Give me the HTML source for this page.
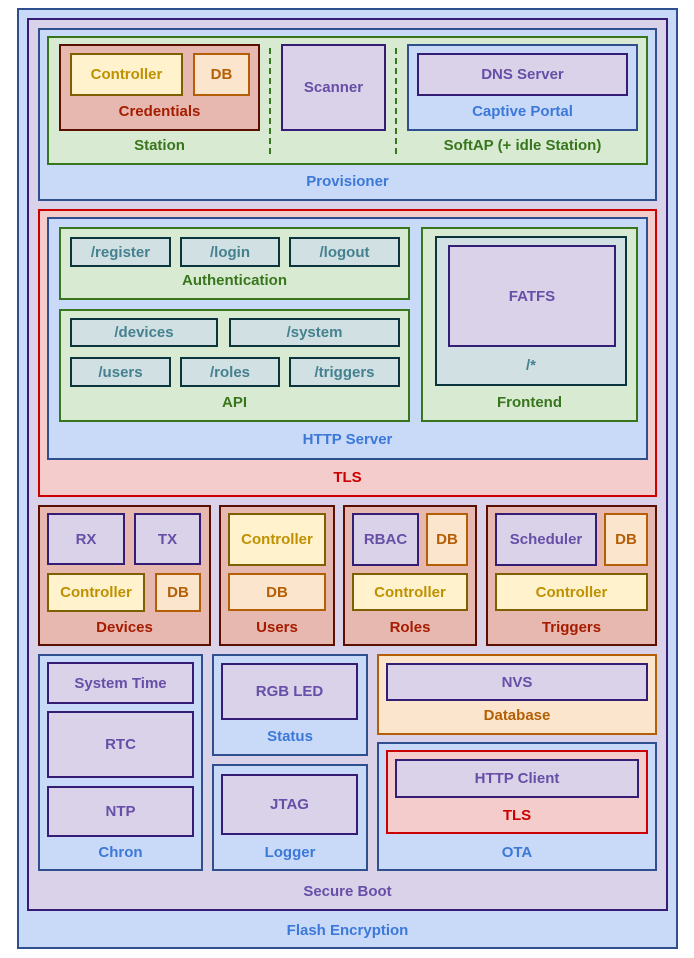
<!DOCTYPE html>
<html><head><meta charset="utf-8"><style>
body{margin:0;width:694px;height:958px;background:#fff;position:relative;overflow:hidden;font-family:"Liberation Sans",Arial,sans-serif;font-weight:bold;font-size:15px}
.x{position:absolute;box-sizing:border-box;border:2px solid}
.f{display:flex;align-items:center;justify-content:center}
.l{position:absolute;height:18px;line-height:18px;text-align:center}
.b{background:#c9daf8;border-color:#2f4f8f;color:#3c78d8}
.p{background:#d9d2e9;border-color:#351c75;color:#674ea7}
.g{background:#d9ead3;border-color:#38761d;color:#38761d}
.r{background:#e6b8af;border-color:#5b0f00;color:#a61c00}
.y{background:#fff2cc;border-color:#7f6000;color:#bf9000}
.o{background:#fce5cd;border-color:#b45f06;color:#b45f06}
.t{background:#f4cccc;border-color:#cc0000;color:#cc0000}
.c{background:#d0e0e3;border-color:#0c343d;color:#45818e}
.lb{color:#3c78d8}.lp{color:#674ea7}.lg{color:#38761d}.lr{color:#a61c00}.lo{color:#b45f06}.lt{color:#cc0000}.lc{color:#45818e}
.d{position:absolute;width:0;border-left:2px dashed #38761d}
</style></head><body>
<div class="x b" style="left:17px;top:8px;width:661px;height:941px"></div>
<div class="l lb" style="left:17px;width:661px;top:922px">Flash Encryption</div>
<div class="x p" style="left:27px;top:18px;width:641px;height:893px"></div>
<div class="l lp" style="left:27px;width:641px;top:883px">Secure Boot</div>

<div class="x b" style="left:38px;top:28px;width:619px;height:173px"></div>
<div class="l lb" style="left:38px;width:619px;top:173px">Provisioner</div>
<div class="x g" style="left:47px;top:36px;width:601px;height:129px"></div>
<div class="l lg" style="left:59px;width:201px;top:137px">Station</div>
<div class="l lg" style="left:407px;width:231px;top:137px">SoftAP (+ idle Station)</div>
<div class="d" style="left:269px;top:48px;height:106px"></div>
<div class="d" style="left:395px;top:48px;height:106px"></div>
<div class="x r" style="left:59px;top:44px;width:201px;height:87px"></div>
<div class="l lr" style="left:59px;width:201px;top:103px">Credentials</div>
<div class="x y f" style="left:70px;top:53px;width:113px;height:43px">Controller</div>
<div class="x o f" style="left:193px;top:53px;width:57px;height:43px">DB</div>
<div class="x p f" style="left:281px;top:44px;width:105px;height:87px">Scanner</div>
<div class="x b" style="left:407px;top:44px;width:231px;height:87px"></div>
<div class="l lb" style="left:407px;width:231px;top:103px">Captive Portal</div>
<div class="x p f" style="left:417px;top:53px;width:211px;height:43px">DNS Server</div>

<div class="x t" style="left:38px;top:209px;width:619px;height:288px"></div>
<div class="l lt" style="left:38px;width:619px;top:469px">TLS</div>
<div class="x b" style="left:47px;top:217px;width:601px;height:243px"></div>
<div class="l lb" style="left:47px;width:601px;top:431px">HTTP Server</div>
<div class="x g" style="left:59px;top:227px;width:351px;height:73px"></div>
<div class="l lg" style="left:59px;width:351px;top:272px">Authentication</div>
<div class="x c f" style="left:70px;top:237px;width:101px;height:30px">/register</div>
<div class="x c f" style="left:180px;top:237px;width:100px;height:30px">/login</div>
<div class="x c f" style="left:289px;top:237px;width:111px;height:30px">/logout</div>
<div class="x g" style="left:59px;top:309px;width:351px;height:113px"></div>
<div class="l lg" style="left:59px;width:351px;top:394px">API</div>
<div class="x c f" style="left:70px;top:318px;width:148px;height:29px">/devices</div>
<div class="x c f" style="left:229px;top:318px;width:171px;height:29px">/system</div>
<div class="x c f" style="left:70px;top:357px;width:101px;height:30px">/users</div>
<div class="x c f" style="left:180px;top:357px;width:100px;height:30px">/roles</div>
<div class="x c f" style="left:289px;top:357px;width:111px;height:30px">/triggers</div>
<div class="x g" style="left:421px;top:227px;width:217px;height:195px"></div>
<div class="l lg" style="left:421px;width:217px;top:394px">Frontend</div>
<div class="x c" style="left:435px;top:236px;width:192px;height:150px"></div>
<div class="l lc" style="left:435px;width:192px;top:357px">/*</div>
<div class="x p f" style="left:448px;top:245px;width:168px;height:102px">FATFS</div>

<div class="x r" style="left:38px;top:505px;width:173px;height:141px"></div>
<div class="l lr" style="left:38px;width:173px;top:619px">Devices</div>
<div class="x p f" style="left:47px;top:513px;width:78px;height:52px">RX</div>
<div class="x p f" style="left:134px;top:513px;width:67px;height:52px">TX</div>
<div class="x y f" style="left:47px;top:573px;width:98px;height:39px">Controller</div>
<div class="x o f" style="left:155px;top:573px;width:46px;height:39px">DB</div>
<div class="x r" style="left:219px;top:505px;width:116px;height:141px"></div>
<div class="l lr" style="left:219px;width:116px;top:619px">Users</div>
<div class="x y f" style="left:228px;top:513px;width:98px;height:53px">Controller</div>
<div class="x o f" style="left:228px;top:573px;width:98px;height:38px">DB</div>
<div class="x r" style="left:343px;top:505px;width:134px;height:141px"></div>
<div class="l lr" style="left:343px;width:134px;top:619px">Roles</div>
<div class="x p f" style="left:352px;top:513px;width:67px;height:53px">RBAC</div>
<div class="x o f" style="left:426px;top:513px;width:42px;height:53px">DB</div>
<div class="x y f" style="left:352px;top:573px;width:116px;height:38px">Controller</div>
<div class="x r" style="left:486px;top:505px;width:171px;height:141px"></div>
<div class="l lr" style="left:486px;width:171px;top:619px">Triggers</div>
<div class="x p f" style="left:495px;top:513px;width:102px;height:53px">Scheduler</div>
<div class="x o f" style="left:604px;top:513px;width:44px;height:53px">DB</div>
<div class="x y f" style="left:495px;top:573px;width:153px;height:38px">Controller</div>

<div class="x b" style="left:38px;top:654px;width:165px;height:217px"></div>
<div class="l lb" style="left:38px;width:165px;top:844px">Chron</div>
<div class="x p f" style="left:47px;top:662px;width:147px;height:42px">System Time</div>
<div class="x p f" style="left:47px;top:711px;width:147px;height:67px">RTC</div>
<div class="x p f" style="left:47px;top:786px;width:147px;height:51px">NTP</div>
<div class="x b" style="left:212px;top:654px;width:156px;height:102px"></div>
<div class="l lb" style="left:212px;width:156px;top:728px">Status</div>
<div class="x p f" style="left:221px;top:663px;width:137px;height:57px">RGB LED</div>
<div class="x b" style="left:212px;top:764px;width:156px;height:107px"></div>
<div class="l lb" style="left:212px;width:156px;top:844px">Logger</div>
<div class="x p f" style="left:221px;top:774px;width:137px;height:61px">JTAG</div>
<div class="x o" style="left:377px;top:654px;width:280px;height:81px"></div>
<div class="l lo" style="left:377px;width:280px;top:707px">Database</div>
<div class="x p f" style="left:386px;top:663px;width:262px;height:38px">NVS</div>
<div class="x b" style="left:377px;top:742px;width:280px;height:129px"></div>
<div class="l lb" style="left:377px;width:280px;top:844px">OTA</div>
<div class="x t" style="left:386px;top:750px;width:262px;height:84px"></div>
<div class="l lt" style="left:386px;width:262px;top:807px">TLS</div>
<div class="x p f" style="left:395px;top:759px;width:244px;height:39px">HTTP Client</div>
</body></html>
